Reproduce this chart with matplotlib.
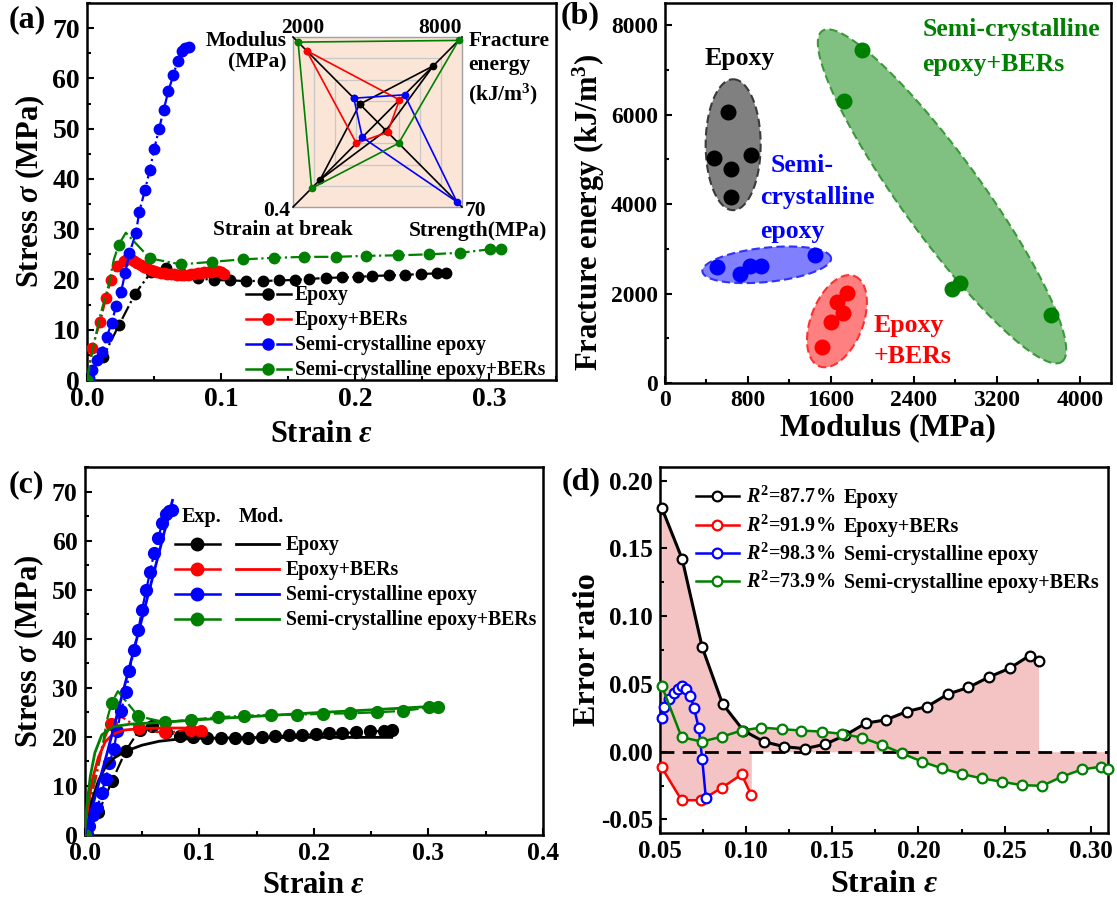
import numpy as np
import matplotlib
matplotlib.use('Agg')
import matplotlib.pyplot as plt
from matplotlib.lines import Line2D
from matplotlib.ticker import MultipleLocator, FormatStrFormatter

W, H = 1117, 899
plt.rcParams['font.family'] = ['Liberation Serif', 'DejaVu Serif']
plt.rcParams['font.weight'] = 'bold'
plt.rcParams['axes.labelweight'] = 'bold'
plt.rcParams['mathtext.fontset'] = 'custom'
plt.rcParams['mathtext.rm'] = 'Liberation Serif:bold'
plt.rcParams['mathtext.it'] = 'Liberation Serif:italic:bold'
plt.rcParams['mathtext.bf'] = 'Liberation Serif:bold'
plt.rcParams['axes.unicode_minus'] = False

# ---------------- data: stress-strain (panels a, c) ----------------
names = ['Epoxy', 'Epoxy+BERs', 'Semi-crystalline epoxy', 'Semi-crystalline epoxy+BERs']
colors = ['#000000', '#ff0000', '#0000ff', '#008000']

strain_ep = [0.0, 0.012, 0.024, 0.036, 0.048, 0.059, 0.071, 0.083, 0.095, 0.107, 0.119, 0.131,
             0.143, 0.155, 0.166, 0.178, 0.190, 0.202, 0.213, 0.225, 0.237, 0.249, 0.261, 0.268]
stress_ep = [0.0, 4.6, 11.0, 17.2, 21.5, 22.3, 21.0, 20.2, 19.9, 19.8, 19.7, 19.7,
             19.8, 19.9, 20.1, 20.3, 20.4, 20.5, 20.7, 20.8, 20.9, 21.1, 21.2, 21.3]

strain_eb = [0.0, 0.0037, 0.0099, 0.0141, 0.0178, 0.0227, 0.0277, 0.030, 0.0325, 0.035, 0.0375,
             0.040, 0.0425, 0.045, 0.0475, 0.050, 0.0525, 0.055, 0.0575, 0.060, 0.0625, 0.065,
             0.0675, 0.070, 0.0725, 0.075, 0.0775, 0.080, 0.0825, 0.085, 0.0875, 0.090, 0.0925,
             0.095, 0.0975, 0.100, 0.102]
stress_eb = [0.0, 6.3, 11.6, 16.3, 19.9, 22.6, 23.7, 24.0, 24.0, 23.7, 23.3,
             22.9, 22.5, 22.2, 21.9, 21.7, 21.5, 21.3, 21.2, 21.1, 21.0, 21.0,
             20.9, 20.9, 20.9, 20.9, 21.0, 21.1, 21.2, 21.3, 21.4, 21.5, 21.5,
             21.6, 21.6, 21.5, 21.1]
marks_eb_c = [5, 14, 23, 32, 36]

strain_sc = [0.0, 0.0017, 0.0038, 0.0074, 0.011, 0.0148, 0.0184, 0.0217, 0.0255, 0.0284, 0.0316,
             0.0365, 0.039, 0.0432, 0.0469, 0.0501, 0.0538, 0.0572, 0.0607, 0.0644, 0.0676,
             0.0707, 0.0734, 0.076]
stress_sc = [0.0, 0.3, 1.9, 4.0, 5.6, 8.6, 11.4, 14.7, 17.6, 21.2, 25.2,
             29.2, 33.5, 37.7, 41.8, 45.9, 50.0, 53.7, 57.5, 60.6, 63.5,
             65.5, 66.1, 66.3]

strain_sb = [0.0, 0.005, 0.010, 0.016, 0.020, 0.0236, 0.029, 0.0469, 0.0699, 0.093,
             0.1162, 0.1393, 0.1623, 0.1856, 0.2081, 0.2319, 0.2549, 0.2781, 0.3007, 0.3086]
stress_sb = [0.0, 7.0, 13.0, 18.7, 23.9, 26.9, 29.3, 24.2, 23.0, 23.5,
             24.0, 24.3, 24.5, 24.5, 24.7, 24.8, 25.0, 25.3, 26.0, 26.0]
marks_sb = [0, 5] + list(range(7, 20))

# model curves (panel c)
mstrain_ep = [0, 0.003, 0.007, 0.012, 0.018, 0.025, 0.035, 0.05, 0.065, 0.08, 0.1, 0.13, 0.2, 0.268]
mstress_ep = [0, 3.5, 7.5, 11.0, 13.8, 15.6, 17.0, 18.3, 19.1, 19.5, 19.7, 19.8, 19.9, 19.9]
mstrain_eb = [0, 0.003, 0.007, 0.012, 0.018, 0.025, 0.035, 0.05, 0.07, 0.102]
mstress_eb = [0, 6.0, 11.5, 15.8, 19.0, 20.6, 21.4, 21.7, 21.8, 21.8]
mstrain_sc = [0, 0.02, 0.04, 0.0767]
mstress_sc = [0, 17.0, 35.0, 68.2]
mstrain_sb = [0, 0.002, 0.005, 0.009, 0.015, 0.025, 0.04, 0.07, 0.1, 0.15, 0.2, 0.25, 0.31]
mstress_sb = [0, 6.0, 12.0, 16.8, 20.4, 22.1, 22.6, 23.0, 23.5, 24.2, 24.9, 25.5, 26.3]

# radar inset (fraction of each axis maximum): Modulus, Fracture energy, Strength, Strain at break
radar_ep = [0.21, 0.66, 0.10, 0.68]
radar_eb = [0.84, 0.26, 0.12, 0.25]
radar_sc = [0.28, 0.32, 0.94, 0.18]
radar_sb = [0.94, 0.96, 0.25, 0.78]

# ---------------- data: modulus vs fracture energy (panel b) ----------------
mod_ep = [606, 475, 830, 633, 640]
fe_ep = [6057, 5035, 5109, 4788, 4161]
mod_eb = [1518, 1597, 1718, 1656, 1759]
fe_eb = [813, 1374, 1562, 1822, 2024]
mod_sc = [502, 719, 823, 927, 1442]
fe_sc = [2584, 2443, 2607, 2607, 2853]
mod_sb = [1897, 1724, 2764, 2843, 3720]
fe_sb = [7446, 6319, 2099, 2233, 1523]

# ---------------- data: error ratio (panel d) ----------------
e_strain_ep = [0.051, 0.0629, 0.0745, 0.0863, 0.0984, 0.1102, 0.122, 0.134, 0.1459, 0.1576,
               0.1694, 0.1812, 0.1932, 0.2051, 0.2171, 0.229, 0.241, 0.2529, 0.2645, 0.2697]
e_ratio_ep = [0.180, 0.142, 0.077, 0.0353, 0.0156, 0.0074, 0.0037, 0.0022, 0.0055, 0.0122,
              0.021, 0.0235, 0.0296, 0.0333, 0.0425, 0.0474, 0.0551, 0.0615, 0.0709, 0.0667]
e_strain_eb = [0.051, 0.0625, 0.0739, 0.0858, 0.0974, 0.103]
e_ratio_eb = [-0.0116, -0.0358, -0.0358, -0.0267, -0.0168, -0.0321]
e_strain_sc = [0.051, 0.0525, 0.0553, 0.058, 0.0605, 0.0625, 0.065, 0.0677, 0.0698, 0.0725,
               0.0745, 0.0766]
e_ratio_sc = [0.0247, 0.0333, 0.0388, 0.0433, 0.0462, 0.0487, 0.0462, 0.0413, 0.0321, 0.0173,
              -0.0056, -0.034]
e_strain_sb = [0.051, 0.0625, 0.0743, 0.086, 0.0974, 0.1088, 0.1207, 0.1321, 0.144, 0.1556,
               0.167, 0.1789, 0.1903, 0.2022, 0.2136, 0.2253, 0.2367, 0.2485, 0.2599, 0.2718,
               0.2832, 0.2948, 0.306, 0.3098]
e_ratio_sb = [0.0487, 0.0107, 0.0074, 0.0111, 0.0156, 0.0178, 0.0166, 0.0156, 0.0148, 0.0131,
              0.0104, 0.005, -0.0012, -0.0074, -0.0123, -0.0165, -0.0197, -0.0222, -0.0247, -0.0252,
              -0.0185, -0.0131, -0.0111, -0.0131]
r2_labels = ['87.7%', '91.9%', '98.3%', '73.9%']

# ---------------- figure ----------------
fig = plt.figure(figsize=(W / 100, H / 100), dpi=100)


def px_axes(l, t, r, b):
    return fig.add_axes([l / W, 1 - b / H, (r - l) / W, (b - t) / H])


def fig_line(xs, ys, **kw):
    fig.add_artist(Line2D([x / W for x in xs], [1 - y / H for y in ys],
                          transform=fig.transFigure, **kw))


def fig_text(x, y, s, **kw):
    fig.text(x / W, 1 - y / H, s, **kw)


def style(ax, fs):
    for s in ax.spines.values():
        s.set_linewidth(1.8)
    ax.tick_params(which='both', direction='in', top=False, right=False, labelsize=fs, width=1.5)
    ax.tick_params(which='major', length=5, pad=5)
    ax.tick_params(which='minor', length=3)


exp_x = [strain_ep, strain_eb, strain_sc, strain_sb]
exp_y = [stress_ep, stress_eb, stress_sc, stress_sb]
order = [0, 3, 1, 2]

# ---------- panel (a) ----------
ax = px_axes(87, 3, 556, 380)
for i in order:
    me = marks_sb if i == 3 else None
    ax.plot(exp_x[i], exp_y[i], ls='-.', lw=1.6, color=colors[i], marker='o', ms=7.5,
            markevery=me, zorder=3 + i)
ax.set_xlim(0, 0.35)
ax.set_ylim(0, 75)
ax.xaxis.set_major_locator(MultipleLocator(0.1))
ax.xaxis.set_minor_locator(MultipleLocator(0.05))
ax.yaxis.set_major_locator(MultipleLocator(10))
ax.yaxis.set_minor_locator(MultipleLocator(5))
style(ax, 20)
ax.set_xlabel(r'Strain $\varepsilon$', fontsize=22)
ax.set_ylabel(r'Stress $\sigma$ (MPa)', fontsize=22)
ax.xaxis.set_label_coords(0.5, -0.105)
ax.yaxis.set_label_coords(-0.085, 0.5)

# legend (a)
for k, yb in enumerate([300, 325, 350, 375]):
    c = colors[k]
    fig_line([246, 263], [yb - 6] * 2, color=c, lw=1.8)
    fig_line([277, 291], [yb - 6] * 2, color=c, lw=1.8)
    fig_line([268], [yb - 6], color=c, marker='o', ms=8, ls='none')
    fig_text(295, yb, names[k], fontsize=14.2, va='baseline')

# radar inset
axr = px_axes(293, 37, 462, 207)
axr.set_xlim(-1, 1)
axr.set_ylim(-1, 1)
axr.axis('off')
axr.fill([-1, 1, 1, -1], [-1, -1, 1, 1], color='#fbe5d6', zorder=0)
axr.plot([-1, 1, 1, -1, -1], [-1, -1, 1, 1, -1], color='#a0a0a0', lw=1.0, zorder=1, clip_on=False)
for r in [0.25, 0.5, 0.75]:
    axr.plot([-r, r, r, -r, -r], [-r, -r, r, r, -r], color='#c8c8c8', lw=0.9, zorder=1)
axr.plot([-1, 1], [1, -1], color='k', lw=1.2, zorder=2, clip_on=False)
axr.plot([-1, 1], [-1, 1], color='k', lw=1.2, zorder=2, clip_on=False)
dirs = [(-1, 1), (1, 1), (1, -1), (-1, -1)]
for k, vals in enumerate([radar_ep, radar_eb, radar_sc, radar_sb]):
    xs = [v * d[0] for v, d in zip(vals, dirs)]
    ys = [v * d[1] for v, d in zip(vals, dirs)]
    axr.plot(xs + xs[:1], ys + ys[:1], color=colors[k], lw=1.2, marker='o', ms=4.5,
             zorder=3, clip_on=False)
fs_in = 15.5
axr.text(-0.89, 1.05, '2000', fontsize=fs_in, ha='center', va='baseline')
axr.text(1.0, 1.05, '8000', fontsize=fs_in, ha='right', va='baseline')
axr.text(-1.07, 0.89, 'Modulus', fontsize=fs_in, ha='right', va='baseline')
axr.text(-1.07, 0.64, '(MPa)', fontsize=fs_in, ha='right', va='baseline')
axr.text(1.075, 0.90, 'Fracture', fontsize=fs_in, ha='left', va='baseline')
axr.text(1.075, 0.61, 'energy', fontsize=fs_in, ha='left', va='baseline')
axr.text(1.075, 0.26, r'(kJ/m$^{3}$)', fontsize=fs_in, ha='left', va='baseline')
axr.text(-1.035, -1.10, '0.4', fontsize=fs_in, ha='right', va='baseline')
axr.text(1.035, -1.10, '70', fontsize=fs_in, ha='left', va='baseline')
axr.text(-1.12, -1.15, 'Strain at break', fontsize=fs_in, ha='center', va='top')
axr.text(1.19, -1.17, 'Strength(MPa)', fontsize=fs_in, ha='center', va='top')

# ---------- panel (b) ----------
axb = px_axes(665, 3, 1111, 383)
t = np.linspace(0, 2 * np.pi, 300)
# ellipse shapes: centre, half-axis vectors (data units), fill, edge
shapes = [
    ((657, 5330), (0, 1464), (265, 0), '#808080', '#3a3a3a'),
    ((1658, 1383), (170, 1008), (233, -213), '#ff8080', '#ff3030'),
    ((981, 2644), (620, 149), (-17, 381), '#8080ff', '#3030ff'),
    ((2671, 4175), (1156, -3698), (312, 527), '#80c080', '#3a9a3a'),
]
for (cx, cy), (ux, uy), (vx, vy), fc, ec in shapes:
    ex = cx + ux * np.cos(t) + vx * np.sin(t)
    ey = cy + uy * np.cos(t) + vy * np.sin(t)
    axb.fill(ex, ey, facecolor=fc, edgecolor=ec, lw=1.5, ls=(0, (4, 2)), zorder=1)
for k, (mx, my) in enumerate([(mod_ep, fe_ep), (mod_eb, fe_eb), (mod_sc, fe_sc), (mod_sb, fe_sb)]):
    axb.plot(mx, my, ls='none', marker='o', ms=10.5, color=colors[k], zorder=3)
axb.set_xlim(0, 4300)
axb.set_ylim(0, 8500)
axb.xaxis.set_major_locator(MultipleLocator(800))
axb.xaxis.set_minor_locator(MultipleLocator(400))
axb.yaxis.set_major_locator(MultipleLocator(2000))
axb.yaxis.set_minor_locator(MultipleLocator(1000))
style(axb, 17)
axb.set_xlabel('Modulus (MPa)', fontsize=23)
axb.set_ylabel(r'Fracture energy (kJ/m$^{3}$)', fontsize=22)
axb.xaxis.set_label_coords(0.5, -0.08)
axb.yaxis.set_label_coords(-0.13, 0.45)
fsb = 18.5
axb.text(723, 7104, 'Epoxy', fontsize=fsb, ha='center', va='baseline', color='k')
axb.text(2482, 7753, 'Semi-crystalline', fontsize=fsb, ha='left', va='baseline', color=colors[3])
axb.text(2482, 6970, 'epoxy+BERs', fontsize=fsb, ha='left', va='baseline', color=colors[3])
axb.text(1020, 4728, 'Semi-', fontsize=fsb, ha='left', va='baseline', color=colors[2])
axb.text(916, 4010, 'crystalline', fontsize=fsb, ha='left', va='baseline', color=colors[2])
axb.text(916, 3250, 'epoxy', fontsize=fsb, ha='left', va='baseline', color=colors[2])
axb.text(2011, 1150, 'Epoxy', fontsize=fsb, ha='left', va='baseline', color=colors[1])
axb.text(2011, 450, '+BERs', fontsize=fsb, ha='left', va='baseline', color=colors[1])

# ---------- panel (c) ----------
axc = px_axes(84.6, 467, 543, 835)
mod_x = [mstrain_ep, mstrain_eb, mstrain_sc, mstrain_sb]
mod_y = [mstress_ep, mstress_eb, mstress_sc, mstress_sb]
for i in order:
    if i == 3:
        me = marks_sb
    elif i == 1:
        me = marks_eb_c
    else:
        me = None
    axc.plot(exp_x[i], exp_y[i], ls='-.', lw=1.6, color=colors[i], marker='o', ms=8.5,
             markevery=me, zorder=3 + i)
for i in order:
    axc.plot(mod_x[i], mod_y[i], ls='-', lw=2.0, color=colors[i], zorder=8 + i)
axc.set_xlim(0, 0.4)
axc.set_ylim(0, 75)
axc.xaxis.set_major_locator(MultipleLocator(0.1))
axc.xaxis.set_minor_locator(MultipleLocator(0.05))
axc.yaxis.set_major_locator(MultipleLocator(10))
axc.yaxis.set_minor_locator(MultipleLocator(5))
style(axc, 18.5)
axc.set_xlabel(r'Strain $\varepsilon$', fontsize=22)
axc.set_ylabel(r'Stress $\sigma$ (MPa)', fontsize=22)
axc.xaxis.set_label_coords(0.5, -0.098)
axc.yaxis.set_label_coords(-0.085, 0.5)

fig_text(182, 522, 'Exp.', fontsize=14.5, va='baseline')
fig_text(239, 522, 'Mod.', fontsize=14.5, va='baseline')
for k, yb in enumerate([550, 575, 600, 625]):
    c = colors[k]
    yy = yb - 6.5
    fig_line([175, 191], [yy] * 2, color=c, lw=1.8)
    fig_line([204, 220], [yy] * 2, color=c, lw=1.8)
    fig_line([197], [yy], color=c, marker='o', ms=9, ls='none')
    fig_line([236, 279], [yy] * 2, color=c, lw=2.0)
    fig_text(286, yb, names[k], fontsize=14.2, va='baseline')

# ---------- panel (d) ----------
axd = px_axes(660, 467, 1108, 833)
ex_d = [e_strain_ep, e_strain_eb, e_strain_sc, e_strain_sb]
ey_d = [e_ratio_ep, e_ratio_eb, e_ratio_sc, e_ratio_sb]
for i in [0, 1, 3]:
    axd.fill_between(ex_d[i], 0, ey_d[i], color='#f4c4c4', lw=0, zorder=1)
axd.axhline(0, color='k', lw=2.0, ls=(0, (5, 3)), zorder=2)
lws = [2.2, 1.8, 1.8, 1.8]
for i in [3, 0, 1, 2]:
    axd.plot(ex_d[i], ey_d[i], color=colors[i], lw=lws[i], marker='o', ms=7, mfc='white',
             mec=colors[i], mew=1.6, zorder=4 + i, clip_on=False)
axd.set_xlim(0.05, 0.31)
axd.set_ylim(-0.06, 0.21)
axd.xaxis.set_major_locator(MultipleLocator(0.05))
axd.xaxis.set_minor_locator(MultipleLocator(0.025))
axd.yaxis.set_major_locator(MultipleLocator(0.05))
axd.yaxis.set_minor_locator(MultipleLocator(0.025))
axd.xaxis.set_major_formatter(FormatStrFormatter('%.2f'))
axd.yaxis.set_major_formatter(FormatStrFormatter('%.2f'))
style(axd, 18)
axd.set_xlabel(r'Strain $\varepsilon$', fontsize=23)
axd.set_ylabel('Error ratio', fontsize=23)
axd.xaxis.set_label_coords(0.5, -0.1)
axd.yaxis.set_label_coords(-0.13, 0.5)

for k, yb in enumerate([503, 532, 560, 588]):
    c = colors[k]
    yy = yb - 7
    fig_line([696, 738.6], [yy] * 2, color=c, lw=1.8)
    fig_line([717], [yy], color=c, marker='o', ms=7, mfc='white', mec=c, mew=1.6, ls='none')
    fig_text(746, yb, r'$R^{2}$=' + r2_labels[k], fontsize=14.5, va='baseline')
    fig_text(844, yb, names[k], fontsize=14.5, va='baseline')

# panel labels
fig_text(9, 27, '(a)', fontsize=23, va='baseline')
fig_text(561, 23, '(b)', fontsize=23, va='baseline')
fig_text(9, 492, '(c)', fontsize=23, va='baseline')
fig_text(562, 489, '(d)', fontsize=23, va='baseline')

fig.savefig('out.png', dpi=100)
